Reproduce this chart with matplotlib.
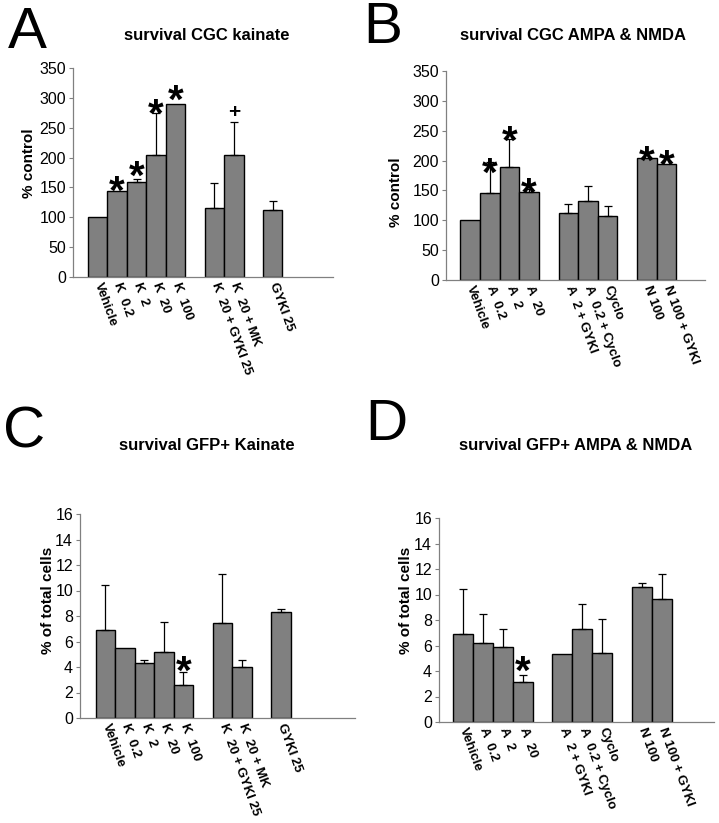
import matplotlib
matplotlib.use("Agg")
import matplotlib.pyplot as plt

plt.rcParams['font.family'] = ['Liberation Sans', 'DejaVu Sans']

# panel A : CGC kainate
labels_A = [["Vehicle", "K  0.2", "K  2", "K  20", "K  100"],
            ["K  20 + GYKI 25", "K  20 + MK"],
            ["GYKI 25"]]
vals_A = [100, 144, 159, 205, 290, 115, 204, 113]
err_A = [None, None, 164, 275, None, 158, 259, 128]
star_A = [None, 160, 185, 288, 313, None, "+278", None]

# panel B : CGC AMPA & NMDA
labels_B = [["Vehicle", "A  0.2", "A  2", "A  20"],
            ["A  2 + GYKI", "A  0.2 + Cyclo", "Cyclo"],
            ["N 100", "N 100 + GYKI"]]
vals_B = [100, 146, 189, 148, 113, 133, 108, 205, 195]
err_B = [None, 198, 236, 152, 127, 158, 124, None, None]
star_B = [None, 195, 248, 162, None, None, None, 215, 209]

# panel C : GFP+ kainate
labels_C = labels_A
vals_C = [6.88, 5.49, 4.34, 5.15, 2.56, 7.42, 3.97, 8.29]
err_C = [10.46, None, 4.52, 7.56, 3.61, 11.27, 4.58, 8.55]
star_C = [None, None, None, None, 4.45, None, None, None]

# panel D : GFP+ AMPA & NMDA
labels_D = labels_B
vals_D = [6.91, 6.20, 5.92, 3.14, 5.37, 7.30, 5.42, 10.58, 9.66]
err_D = [10.45, 8.46, 7.30, 3.69, None, 9.24, 8.04, 10.89, 11.60]
star_D = [None, None, None, 4.74, None, None, None, None, None]

W, H = 719, 823
fig = plt.figure(figsize=(W / 100, H / 100), dpi=100)


def px_axes(l, t, r, b):
    return fig.add_axes([l / W, 1 - b / H, (r - l) / W, (b - t) / H])


def panel(ax, groups, vals, errs, marks, ymax, ystep, xlim, ylabel):
    xs, labs = [], []
    pos = 0
    for g in groups:
        for lab in g:
            xs.append(pos)
            labs.append(lab)
            pos += 1
        pos += 1  # empty slot between groups
    ax.bar(xs, vals, width=1.0, color='#808080', edgecolor='black', linewidth=1.0, zorder=2)
    for x, v, e in zip(xs, vals, errs):
        if e is not None:
            ax.errorbar([x], [v], yerr=[[0], [e - v]], fmt='none', ecolor='black',
                        elinewidth=0.9, capsize=2.6, capthick=0.9, zorder=3)
    for x, m in zip(xs, marks):
        if m is None:
            continue
        if isinstance(m, str):
            ax.annotate('+', (x, float(m[1:])), xytext=(0, -5), textcoords='offset points',
                        ha='center', va='baseline', fontsize=15, fontweight='bold', zorder=4)
        else:
            ax.annotate('*', (x, m), xytext=(0, -16), textcoords='offset points',
                        ha='center', va='baseline', fontsize=29, fontweight='bold', zorder=4)
    ax.set_xlim(*xlim)
    ax.set_ylim(0, ymax)
    ax.set_yticks(range(0, ymax + 1, ystep))
    ax.set_xticks(xs)
    ax.set_xticklabels(labs)
    for t in ax.get_xticklabels():
        t.set_rotation(-70)
        t.set_rotation_mode('anchor')
        t.set_ha('left')
        t.set_va('center')
        t.set_fontweight('bold')
        t.set_fontsize(9.5)
    ax.tick_params(axis='x', length=0, pad=4)
    ax.tick_params(axis='y', length=3, direction='out', color='#808080', labelsize=11.5, pad=2)
    for s in ['top', 'right']:
        ax.spines[s].set_visible(False)
    for s in ['left', 'bottom']:
        ax.spines[s].set_color('#808080')
        ax.spines[s].set_linewidth(0.9)
    ax.set_ylabel(ylabel, fontsize=11, fontweight='bold')


axA = px_axes(73, 68, 333, 277)
panel(axA, labels_A, vals_A, err_A, star_A, 350, 50, (-1.27, 12.1), '% control')
axB = px_axes(446, 71, 705, 280)
panel(axB, labels_B, vals_B, err_B, star_B, 350, 50, (-1.23, 11.96), '% control')
axC = px_axes(80, 514, 355, 718)
panel(axC, labels_C, vals_C, err_C, star_C, 16, 2, (-1.3, 12.8), '% of total cells')
axD = px_axes(439, 518, 714, 722)
panel(axD, labels_D, vals_D, err_D, star_D, 16, 2, (-1.22, 12.64), '% of total cells')

# panel letters and titles
letters = ['A', 'B', 'C', 'D']
letter_xy = [(8, 48), (363, 43), (3, 447), (365, 440)]
titles = ['survival CGC kainate', 'survival CGC AMPA & NMDA',
          'survival GFP+ Kainate', 'survival GFP+ AMPA & NMDA']
title_xy = [(207, 36), (573, 36), (207, 445), (576, 445)]
for let, (lx, ly), tt, (tx, ty) in zip(letters, letter_xy, titles, title_xy):
    fig.text(lx / W, 1 - ly / H, let, fontsize=42, ha='left', va='baseline')
    fig.text(tx / W, 1 - ty / H, tt, fontsize=12, fontweight='bold', ha='center', va='center')

# y label positions (right edge of the rotated label)
for ax, (x, y) in zip([axA, axB, axC, axD], [(36, 163), (403, 192), (55, 600), (413, 600)]):
    ax.yaxis.set_label_coords(x / W, 1 - y / H, transform=fig.transFigure)

fig.savefig('out.png', dpi=100)
